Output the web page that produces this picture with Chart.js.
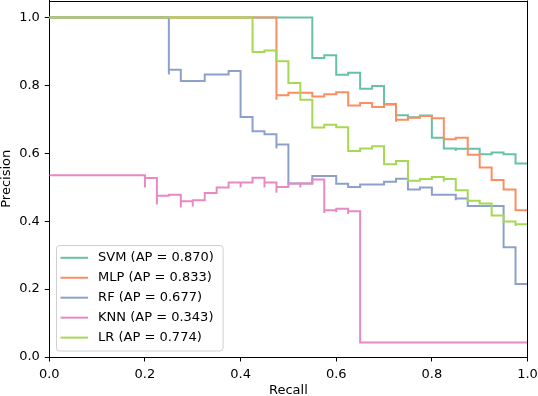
<!DOCTYPE html>
<html>
<head>
<meta charset="utf-8">
<script src="https://cdn.jsdelivr.net/npm/chart.js@4.4.1/dist/chart.umd.min.js"></script>
<style>
  html, body { margin: 0; padding: 0; background: #ffffff; }
  #wrap { width: 538px; height: 396px; }
</style>
</head>
<body>
<div id="wrap"><canvas id="c" width="538" height="396"></canvas></div>
<script>
// ---- data (recall = left end of each horizontal step, precision = step level) ----
const seriesNames = ["SVM (AP = 0.870)", "MLP (AP = 0.833)", "RF (AP = 0.677)", "KNN (AP = 0.343)", "LR (AP = 0.774)"];
const seriesColors = ["#66c2a5", "#fc8d62", "#8da0cb", "#e78ac3", "#a6d854"];

const svmRecall    = [0, 0.55, 0.575, 0.6, 0.625, 0.65, 0.675, 0.70, 0.725, 0.75, 0.775, 0.80, 0.825, 0.85, 0.85, 0.90, 0.925, 0.95, 0.975, 1.0];
const svmPrecision = [1.0, 0.881, 0.889, 0.831, 0.837, 0.790, 0.798, 0.744, 0.712, 0.706, 0.711, 0.646, 0.614, 0.607, 0.613, 0.597, 0.602, 0.597, 0.570, 0.570];

const mlpRecall    = [0, 0.475, 0.475, 0.50, 0.55, 0.575, 0.60, 0.625, 0.65, 0.675, 0.70, 0.725, 0.725, 0.75, 0.775, 0.80, 0.825, 0.85, 0.875, 0.90, 0.925, 0.95, 0.975, 1.0];
const mlpPrecision = [1.0, 0.758, 0.771, 0.778, 0.767, 0.774, 0.780, 0.741, 0.748, 0.736, 0.745, 0.693, 0.699, 0.705, 0.710, 0.703, 0.641, 0.646, 0.596, 0.558, 0.521, 0.493, 0.432, 0.432];

const rfRecall     = [0, 0.25, 0.25, 0.275, 0.325, 0.375, 0.40, 0.425, 0.45, 0.475, 0.475, 0.50, 0.55, 0.60, 0.625, 0.65, 0.70, 0.725, 0.75, 0.775, 0.80, 0.85, 0.85, 0.875, 0.95, 0.975, 1.0];
const rfPrecision  = [1.0, 0.832, 0.846, 0.813, 0.832, 0.842, 0.707, 0.665, 0.656, 0.614, 0.626, 0.511, 0.533, 0.510, 0.501, 0.508, 0.516, 0.525, 0.493, 0.499, 0.478, 0.462, 0.467, 0.445, 0.323, 0.215, 0.215];

const knnRecall    = [0, 0.20, 0.20, 0.225, 0.225, 0.25, 0.275, 0.275, 0.30, 0.30, 0.325, 0.35, 0.375, 0.40, 0.40, 0.425, 0.45, 0.45, 0.475, 0.475, 0.50, 0.525, 0.525, 0.55, 0.575, 0.575, 0.60, 0.60, 0.625, 0.625, 0.65, 1.0];
const knnPrecision = [0.535, 0.499, 0.527, 0.449, 0.475, 0.478, 0.440, 0.459, 0.443, 0.462, 0.483, 0.499, 0.514, 0.499, 0.514, 0.528, 0.499, 0.514, 0.484, 0.501, 0.511, 0.499, 0.511, 0.523, 0.424, 0.432, 0.426, 0.437, 0.421, 0.429, 0.043, 0.043];

const lrRecall     = [0, 0.425, 0.45, 0.475, 0.50, 0.525, 0.55, 0.575, 0.60, 0.625, 0.65, 0.675, 0.70, 0.725, 0.75, 0.775, 0.80, 0.825, 0.825, 0.85, 0.875, 0.90, 0.925, 0.95, 0.975, 0.975, 1.0];
const lrPrecision  = [1.0, 0.898, 0.903, 0.871, 0.807, 0.758, 0.676, 0.684, 0.677, 0.607, 0.614, 0.621, 0.568, 0.577, 0.519, 0.524, 0.530, 0.516, 0.524, 0.491, 0.460, 0.452, 0.417, 0.399, 0.386, 0.391, 0.391];

const xTickValues = [0.0, 0.2, 0.4, 0.6, 0.8, 1.0];
const yTickValues = [0.0, 0.2, 0.4, 0.6, 0.8, 1.0];
const xAxisTitle = "Recall";
const yAxisTitle = "Precision";

// ---- build ----
const recallSets = [svmRecall, mlpRecall, rfRecall, knnRecall, lrRecall];
const precisionSets = [svmPrecision, mlpPrecision, rfPrecision, knnPrecision, lrPrecision];
const FONT = "'DejaVu Sans', 'Liberation Sans', sans-serif";

const datasets = seriesNames.map((name, i) => ({
  label: name,
  data: recallSets[i].map((r, j) => ({ x: r, y: precisionSets[i][j] })),
  borderColor: seriesColors[i],
  backgroundColor: seriesColors[i],
  borderWidth: 2,
  pointRadius: 0,
  showLine: true,
  fill: false,
  stepped: 'before',
  order: seriesNames.length - i
}));

const framePlugin = {
  id: 'frame',
  afterDatasetsDraw(chart) {
    const { ctx, chartArea: a } = chart;
    ctx.save();
    ctx.strokeStyle = '#000';
    ctx.lineWidth = 1;
    ctx.beginPath();
    ctx.moveTo(a.left, Math.round(a.top) + 0.5);
    ctx.lineTo(a.right, Math.round(a.top) + 0.5);
    ctx.moveTo(Math.round(a.right) - 0.5, a.top);
    ctx.lineTo(Math.round(a.right) - 0.5, a.bottom);
    ctx.stroke();
    ctx.restore();
  }
};

const legendPlugin = {
  id: 'mplLegend',
  afterDraw(chart) {
    const { ctx, chartArea: a } = chart;
    const bx = a.left + 7.2, bw = 166.6, bh = 105.5;
    const by = a.bottom - 6 - bh;
    ctx.save();
    const r = 3;
    ctx.beginPath();
    ctx.moveTo(bx + r, by);
    ctx.lineTo(bx + bw - r, by);
    ctx.arcTo(bx + bw, by, bx + bw, by + r, r);
    ctx.lineTo(bx + bw, by + bh - r);
    ctx.arcTo(bx + bw, by + bh, bx + bw - r, by + bh, r);
    ctx.lineTo(bx + r, by + bh);
    ctx.arcTo(bx, by + bh, bx, by + bh - r, r);
    ctx.lineTo(bx, by + r);
    ctx.arcTo(bx, by, bx + r, by, r);
    ctx.closePath();
    ctx.fillStyle = 'rgba(255,255,255,0.8)';
    ctx.fill();
    ctx.strokeStyle = '#d0d0d0';
    ctx.lineWidth = 1;
    ctx.stroke();
    ctx.font = '13px ' + FONT;
    ctx.textBaseline = 'middle';
    ctx.textAlign = 'left';
    chart.data.datasets.forEach((ds, i) => {
      const y = by + 12.3 + i * 19.95;
      ctx.strokeStyle = ds.borderColor;
      ctx.lineWidth = 2;
      ctx.beginPath();
      ctx.moveTo(bx + 4, y);
      ctx.lineTo(bx + 31.6, y);
      ctx.stroke();
      ctx.fillStyle = '#000';
      ctx.fillText(ds.label, bx + 41.6, y);
    });
    ctx.restore();
  }
};

new Chart(document.getElementById('c'), {
  type: 'scatter',
  data: { datasets },
  plugins: [framePlugin, legendPlugin],
  options: {
    responsive: false,
    devicePixelRatio: 1,
    animation: false,
    layout: { padding: { top: 0.5, right: 10.5, left: 0, bottom: 0 } },
    plugins: { legend: { display: false }, tooltip: { enabled: false } },
    scales: {
      x: {
        type: 'linear', min: 0, max: 1,
        afterBuildTicks: (s) => { s.ticks = xTickValues.map(v => ({ value: v })); },
        afterFit: (s) => { s.height = 39; s.paddingLeft = 0; s.paddingRight = 0; s.paddingTop = 0; s.paddingBottom = 0; },
        ticks: { callback: (v) => v.toFixed(1), color: '#000', font: { family: FONT, size: 13 }, padding: 5, maxRotation: 0, autoSkip: false },
        grid: { display: true, drawOnChartArea: false, drawTicks: true, tickLength: 4.5, color: '#000', lineWidth: 1 },
        border: { display: true, color: '#000', width: 1 },
        title: { display: true, text: xAxisTitle, color: '#000', font: { family: FONT, size: 13 }, padding: { top: 0, bottom: -2 } }
      },
      y: {
        type: 'linear', min: 0, max: 1.05,
        afterBuildTicks: (s) => { s.ticks = yTickValues.map(v => ({ value: v })); },
        afterFit: (s) => { s.width = 49.3; s.paddingLeft = 0; s.paddingRight = 0; s.paddingTop = 0; s.paddingBottom = 0; },
        ticks: { callback: (v) => v.toFixed(1), color: '#000', font: { family: FONT, size: 13 }, padding: 5, autoSkip: false },
        grid: { display: true, drawOnChartArea: false, drawTicks: true, tickLength: 4.5, color: '#000', lineWidth: 1 },
        border: { display: true, color: '#000', width: 1 },
        title: { display: true, text: yAxisTitle, color: '#000', font: { family: FONT, size: 13 }, padding: { top: -1, bottom: 0 } }
      }
    }
  }
});
</script>
</body>
</html>
